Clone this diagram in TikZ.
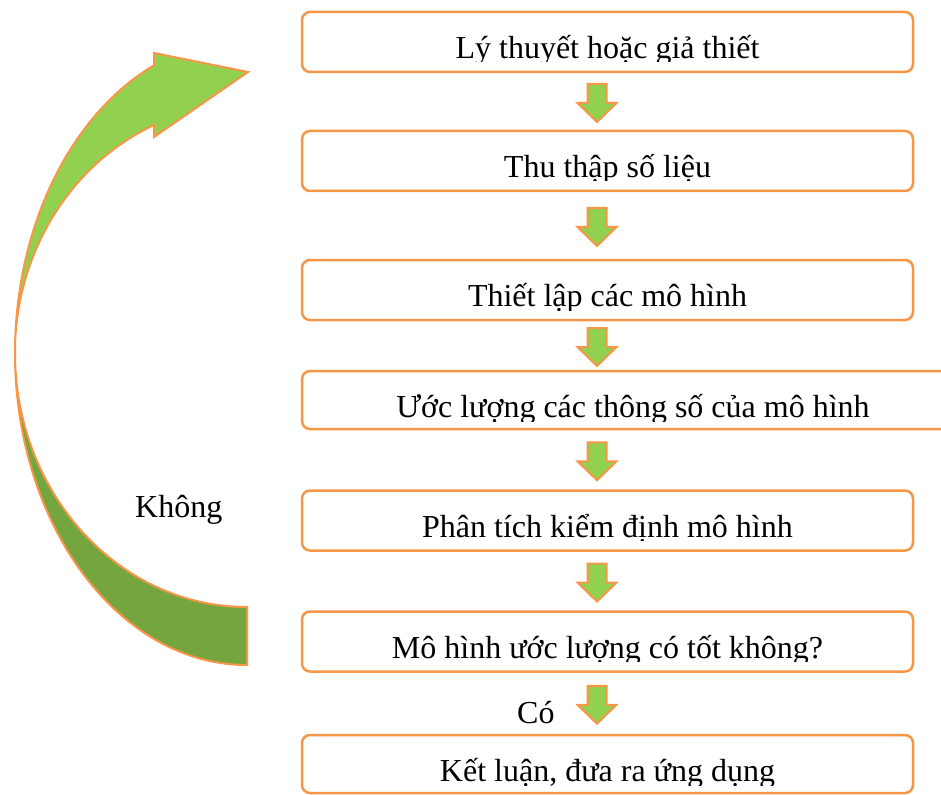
\documentclass[tikz,border=0pt]{standalone}
\usepackage{fontspec}
\setmainfont{Liberation Serif}
\usetikzlibrary{calc}
\definecolor{boxorange}{HTML}{F79646}
\definecolor{lightgreen}{HTML}{92D050}
\definecolor{darkgreen}{HTML}{74A53F}
\begin{document}
\begin{tikzpicture}[x=1pt,y=-1pt,
  stepbox/.style={draw=boxorange, line width=2.5pt, rounded corners=8pt, fill=white,
    minimum height=60pt, inner sep=0pt, outer sep=0pt},
  lbl/.style={font=\fontsize{32}{38}\selectfont, inner sep=0pt},
  shapeline/.style={draw=boxorange, line width=2pt, line join=miter},
  flowarrow/.pic={\filldraw[shapeline, fill=lightgreen]
    (-9.5,-17.5) -- (9.5,-17.5) -- (9.5,1.5) -- (19.5,1.5) -- (0,20.5)
    -- (-19.5,1.5) -- (-9.5,1.5) -- cycle;}
]
\useasboundingbox (0,0) rectangle (941,794);

% process steps
\node[stepbox, minimum width=611pt] (b1) at (607.5,42) {};
\node[stepbox, minimum width=611pt] (b2) at (607.5,161) {};
\node[stepbox, minimum width=611pt] (b3) at (607.5,290) {};
\node[stepbox, minimum width=662pt, minimum height=58pt] (b4) at (633,400) {};
\node[stepbox, minimum width=611pt] (b5) at (607.5,520.5) {};
\node[stepbox, minimum width=611pt] (b6) at (607.5,641.5) {};
\node[stepbox, minimum width=611pt, minimum height=58pt] (b7) at (607.5,764) {};

% step texts: set from the top of each box and cut off just under the baseline
\foreach \b/\t in {b1/{Lý thuyết hoặc giả thiết},
                   b2/{Thu thập số liệu},
                   b3/{Thiết lập các mô hình},
                   b4/{Ước lượng các thông số của mô hình},
                   b5/{Phân tích kiểm định mô hình},
                   b6/{Mô hình ước lượng có tốt không?},
                   b7/{Kết luận, đưa ra ứng dụng}} {
  \begin{scope}
    \clip (\b.north west) rectangle ($(\b.north east)+(0,50)$);
    \node[lbl, anchor=base] (\b-text) at ($(\b.north)+(0,46.5)$) {\t};
  \end{scope}
}

% block arrows between the steps
\coordinate (axis) at (597,0);
\foreach \a/\b in {b1/b2, b2/b3, b3/b4, b4/b5, b5/b6, b6/b7} {
  \coordinate (\a-\b) at ($(\a.south)!0.5!(\b.north)$);
  \pic at (axis |- \a-\b) {flowarrow};
}

% feedback arrow: lower (shaded) half
\filldraw[shapeline, fill=darkgreen]
  (247,665) arc[start angle=90, end angle=180, x radius=232, y radius=312]
            arc[start angle=180, end angle=90, x radius=232, y radius=254] -- cycle;
% feedback arrow: upper half with head
\filldraw[shapeline, fill=lightgreen]
  (15,353) arc[start angle=180, end angle=246.4, x radius=232, y radius=314]
  -- (154,53) -- (248,72) -- (154,137) -- (154,125)
  arc[start angle=246.4, end angle=180, x radius=232, y radius=249] -- cycle;

\node[lbl, anchor=base west] (no) at (135,517) {Không};
\node[lbl, anchor=base west] (yes) at (517,723) {Có};
\end{tikzpicture}
\end{document}
